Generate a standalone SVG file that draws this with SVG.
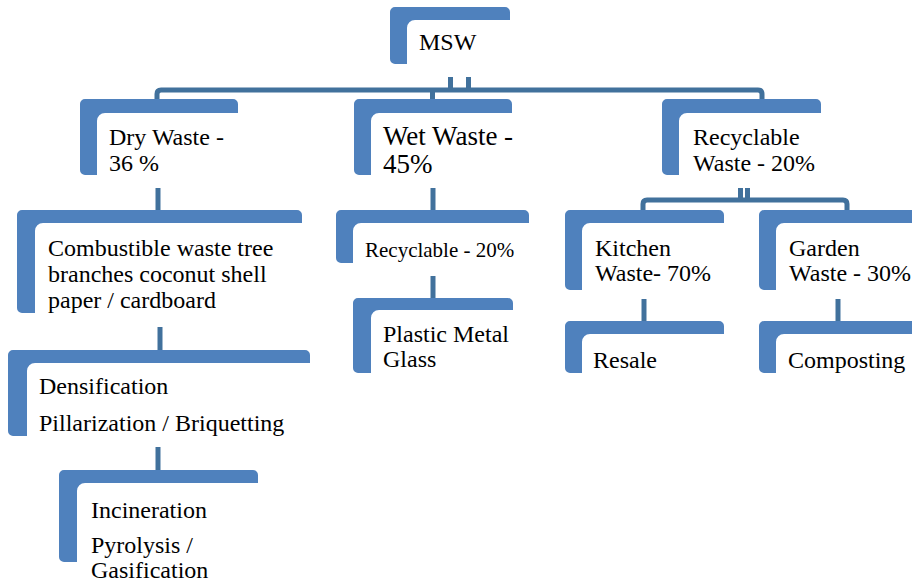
<svg xmlns="http://www.w3.org/2000/svg" width="912" height="583" viewBox="0 0 912 583">
<style>
.n{fill:#4F81BD}
.c{fill:none;stroke:#41719C;stroke-width:5}
.t{fill:#000;font-size:24px}
.big{font-size:27px}
.sm{font-size:21px}
</style>
<rect width="912" height="583" fill="#fff"/>
<g id="connectors">
<path class="c" d="M157,99 V94 Q157,90 161,90 H758 Q762,90 762,94 V99"/>
<path class="c" d="M432.5,90 V99 M450.5,77 V90 M468.5,77 V90"/>
<path class="c" d="M158,188 V210"/>
<path class="c" d="M160,327 V350"/>
<path class="c" d="M158,447 V470"/>
<path class="c" d="M433,188 V210"/>
<path class="c" d="M433,276 V298"/>
<path class="c" d="M643,210 V204 Q643,200 647,200 H843 Q847,200 847,204 V210"/>
<path class="c" d="M740.5,188 V200 M747.5,188 V200"/>
<path class="c" d="M644,299 V321"/>
<path class="c" d="M838,299 V321"/>
</g>
<g id="msw">
<path class="n" d="M395,7 H505 A5,5 0 0 1 510,12 V20 H415 A8,8 0 0 0 407,28 V64 H395 A5,5 0 0 1 390,59 V12 A5,5 0 0 1 395,7 Z"/>
<text class="t" font-family="Liberation Serif" x="419" y="50">MSW</text>
</g>
<g id="dry">
<path class="n" d="M85,99 H233 A5,5 0 0 1 238,104 V113 H105 A8,8 0 0 0 97,121 V175 H85 A5,5 0 0 1 80,170 V104 A5,5 0 0 1 85,99 Z"/>
<text class="t" font-family="Liberation Serif" x="109" y="145">Dry Waste -</text>
<text class="t" font-family="Liberation Serif" x="109" y="171">36 %</text>
</g>
<g id="wet">
<path class="n" d="M359,99 H507 A5,5 0 0 1 512,104 V113 H379 A8,8 0 0 0 371,121 V175 H359 A5,5 0 0 1 354,170 V104 A5,5 0 0 1 359,99 Z"/>
<text class="t big" font-family="Liberation Serif" x="383" y="145">Wet Waste -</text>
<text class="t big" font-family="Liberation Serif" x="383" y="173">45%</text>
</g>
<g id="recyclable-waste">
<path class="n" d="M667,99 H816 A5,5 0 0 1 821,104 V113 H687 A8,8 0 0 0 679,121 V175 H667 A5,5 0 0 1 662,170 V104 A5,5 0 0 1 667,99 Z"/>
<text class="t" font-family="Liberation Serif" x="693" y="145">Recyclable</text>
<text class="t" font-family="Liberation Serif" x="693" y="171">Waste - 20%</text>
</g>
<g id="combustible">
<path class="n" d="M22,210 H297 A5,5 0 0 1 302,215 V223 H43 A8,8 0 0 0 35,231 V313 H22 A5,5 0 0 1 17,308 V215 A5,5 0 0 1 22,210 Z"/>
<text class="t" font-family="Liberation Serif" x="48" y="256">Combustible waste tree</text>
<text class="t" font-family="Liberation Serif" x="48" y="282">branches coconut shell</text>
<text class="t" font-family="Liberation Serif" x="48" y="308">paper / cardboard</text>
</g>
<g id="densification">
<path class="n" d="M13,350 H305 A5,5 0 0 1 310,355 V363 H35 A8,8 0 0 0 27,371 V436 H13 A5,5 0 0 1 8,431 V355 A5,5 0 0 1 13,350 Z"/>
<text class="t" font-family="Liberation Serif" x="39" y="394">Densification</text>
<text class="t" font-family="Liberation Serif" x="39" y="431">Pillarization / Briquetting</text>
</g>
<g id="incineration">
<path class="n" d="M64,470 H253 A5,5 0 0 1 258,475 V483 H85 A8,8 0 0 0 77,491 V562 H64 A5,5 0 0 1 59,557 V475 A5,5 0 0 1 64,470 Z"/>
<text class="t" font-family="Liberation Serif" x="91" y="518">Incineration</text>
<text class="t" font-family="Liberation Serif" x="91" y="553">Pyrolysis /</text>
<text class="t" font-family="Liberation Serif" x="91" y="578">Gasification</text>
</g>
<g id="recyclable-20">
<path class="n" d="M341,210 H524 A5,5 0 0 1 529,215 V223 H361 A8,8 0 0 0 353,231 V263 H341 A5,5 0 0 1 336,258 V215 A5,5 0 0 1 341,210 Z"/>
<text class="t sm" font-family="Liberation Serif" x="365" y="257">Recyclable - 20%</text>
</g>
<g id="plastic">
<path class="n" d="M358,298 H508 A5,5 0 0 1 513,303 V310 H379 A8,8 0 0 0 371,318 V373 H358 A5,5 0 0 1 353,368 V303 A5,5 0 0 1 358,298 Z"/>
<text class="t" font-family="Liberation Serif" x="383" y="342">Plastic Metal</text>
<text class="t" font-family="Liberation Serif" x="383" y="367">Glass</text>
</g>
<g id="kitchen">
<path class="n" d="M570,210 H719 A5,5 0 0 1 724,215 V223 H590 A8,8 0 0 0 582,231 V290 H570 A5,5 0 0 1 565,285 V215 A5,5 0 0 1 570,210 Z"/>
<text class="t" font-family="Liberation Serif" x="595" y="256">Kitchen</text>
<text class="t" font-family="Liberation Serif" x="595" y="281">Waste- 70%</text>
</g>
<g id="garden">
<path class="n" d="M764,210 H913 A5,5 0 0 1 918,215 V223 H784 A8,8 0 0 0 776,231 V290 H764 A5,5 0 0 1 759,285 V215 A5,5 0 0 1 764,210 Z"/>
<text class="t" font-family="Liberation Serif" x="789" y="256">Garden</text>
<text class="t" font-family="Liberation Serif" x="789" y="281">Waste - 30%</text>
</g>
<g id="resale">
<path class="n" d="M570,321 H719 A5,5 0 0 1 724,326 V334 H590 A8,8 0 0 0 582,342 V373 H570 A5,5 0 0 1 565,368 V326 A5,5 0 0 1 570,321 Z"/>
<text class="t" font-family="Liberation Serif" x="593" y="368">Resale</text>
</g>
<g id="composting">
<path class="n" d="M764,321 H913 A5,5 0 0 1 918,326 V334 H784 A8,8 0 0 0 776,342 V373 H764 A5,5 0 0 1 759,368 V326 A5,5 0 0 1 764,321 Z"/>
<text class="t" font-family="Liberation Serif" x="788" y="368">Composting</text>
</g>
</svg>
